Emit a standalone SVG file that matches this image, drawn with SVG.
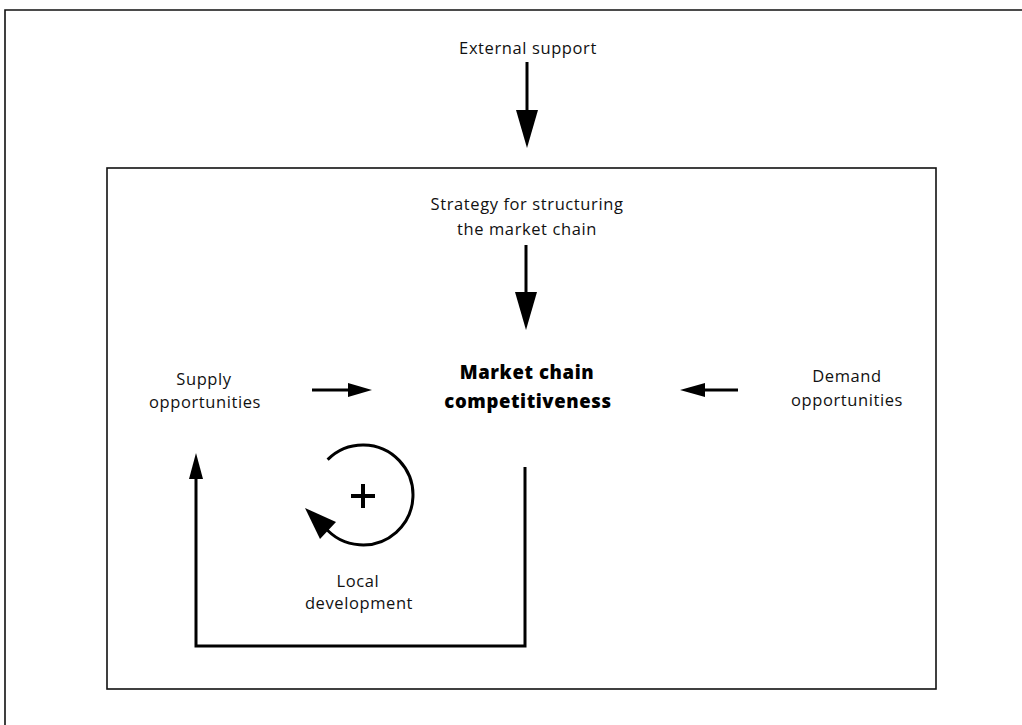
<svg xmlns="http://www.w3.org/2000/svg" width="1022" height="725" viewBox="0 0 1022 725">
  <style>
    .frame { fill: none; stroke: #111; stroke-width: 1.6; }
    .lbl { font-family: "Open Sans", "Noto Sans", sans-serif; font-size: 16.5px; letter-spacing: 0.6px; fill: #111; text-anchor: middle; }
    .core { font-family: "Open Sans", "Noto Sans", sans-serif; font-size: 18.5px; font-weight: 800; letter-spacing: 0.6px; fill: #000; text-anchor: middle; }
    .wire { fill: none; stroke: #000; stroke-width: 3; }
    .head { fill: #000; stroke: none; }
  </style>
  <rect width="1022" height="725" fill="#fff"/>

  <!-- outer page frame (top and left edges only) -->
  <path class="frame" d="M5,725 V10 H1022"/>

  <g id="external-support">
    <text class="lbl" x="528" y="54">External support</text>
  </g>

  <!-- inner system boundary -->
  <g id="system-boundary">
    <rect class="frame" x="107" y="168" width="829" height="521"/>
  </g>

  <g id="strategy">
    <text class="lbl" x="527" y="210">Strategy for structuring</text>
    <text class="lbl" x="527" y="235">the market chain</text>
  </g>

  <g id="competitiveness">
    <text class="core" x="527" y="379">Market chain</text>
    <text class="core" x="528" y="408">competitiveness</text>
  </g>

  <g id="supply">
    <text class="lbl" x="204" y="385">Supply</text>
    <text class="lbl" x="205" y="408">opportunities</text>
  </g>

  <g id="demand">
    <text class="lbl" x="847" y="382">Demand</text>
    <text class="lbl" x="847" y="406">opportunities</text>
  </g>

  <g id="local-development">
    <text class="lbl" x="358" y="587">Local</text>
    <text class="lbl" x="359" y="609">development</text>
  </g>

  <!-- reinforcing loop symbol -->
  <g id="reinforcing-loop">
    <path class="wire" d="M327.6,459.6 A50,50 0 1 1 324.7,527.1"/>
    <polygon class="head" points="305,508 336,522 320,539"/>
    <path d="M363,484 V508 M351,496 H375" stroke="#000" stroke-width="4" fill="none"/>
  </g>

  <g id="connectors">
    <!-- external support -> system -->
    <line class="wire" x1="527" y1="62" x2="527" y2="114"/>
    <polygon class="head" points="516,110 538,110 527,148"/>
    <!-- strategy -> competitiveness -->
    <line class="wire" x1="526" y1="245" x2="526" y2="296"/>
    <polygon class="head" points="515,292 537,292 526,330"/>
    <!-- supply -> competitiveness -->
    <line class="wire" x1="312" y1="390" x2="352" y2="390"/>
    <polygon class="head" points="348,383 348,397 372,390"/>
    <!-- demand -> competitiveness -->
    <line class="wire" x1="738" y1="390" x2="700" y2="390"/>
    <polygon class="head" points="705,383 705,397 680,390"/>
    <!-- feedback: competitiveness -> supply -->
    <polyline class="wire" points="525,467 525,646 196,646 196,476"/>
    <polygon class="head" points="189,479 203,479 196,453"/>
  </g>
</svg>
